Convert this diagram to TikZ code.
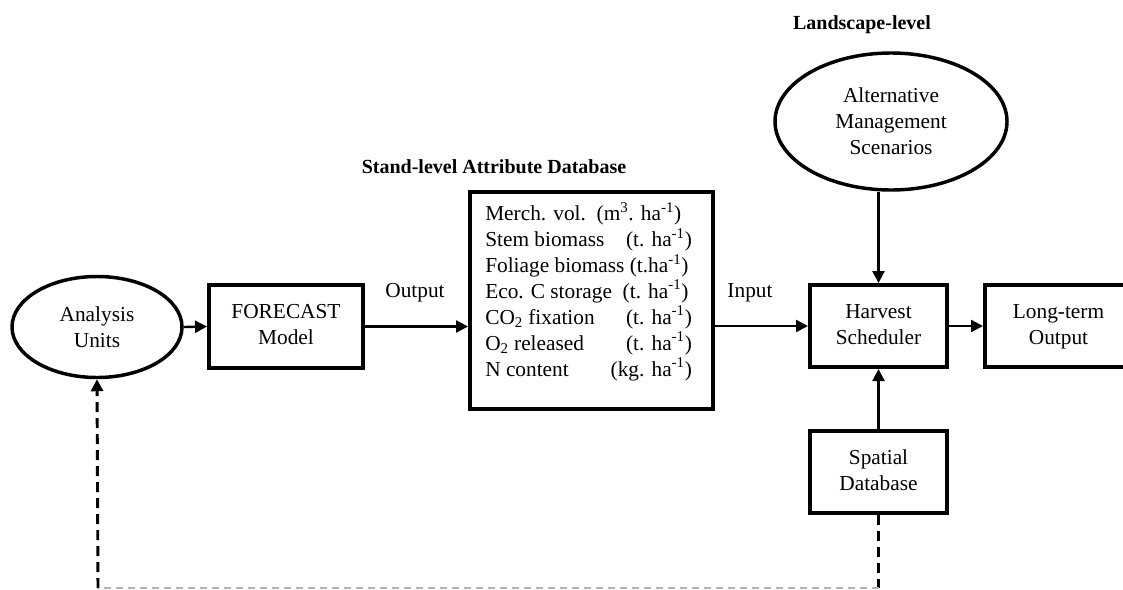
\documentclass[tikz,border=0pt]{standalone}
\usepackage{fontspec}
\setmainfont{Liberation Serif}
\usetikzlibrary{arrows.meta,shapes.geometric}
\newcommand{\twol}[2]{\raisebox{4.5pt}{\begin{tabular}{@{}c@{}}#1\\#2\end{tabular}}}
\tikzset{
  boxst/.style={draw=black, line width=3pt, rectangle, align=center, inner sep=0pt,
    font=\fontsize{16}{19.5}\selectfont},
  ellst/.style={draw=black, line width=2.6pt, ellipse, align=center, inner sep=0pt,
    font=\fontsize{16}{19.5}\selectfont},
  lbl/.style={font=\fontsize{16}{19.5}\selectfont, inner sep=0pt},
  ttl/.style={font=\fontsize{15}{18}\selectfont\bfseries, inner sep=0pt},
  arr/.style={line width=1.8pt, -{Triangle[length=9pt,width=9pt]}},
  dashk/.style={line width=2.2pt, dash pattern=on 7.5pt off 4.5pt},
  dashg/.style={line width=1.5pt, draw=black!30, dash pattern=on 5pt off 4pt},
}
\begin{document}
\begin{tikzpicture}[x=0.75pt,y=-0.75pt]
\useasboundingbox (0,0) rectangle (1123,589);
% nodes
\node[ellst, minimum width=127.5pt, minimum height=75.75pt] (au) at (97,327) {Analysis\\Units};
\node[boxst, minimum width=115.5pt, minimum height=62.25pt] (fc) at (286,326.5) {\twol{FORECAST}{Model}};
\node[boxst, minimum width=182.25pt, minimum height=162.75pt] (attr) at (591.5,300.5) {};
\node[anchor=north west, inner sep=0pt, font=\fontsize{16}{19.3}\selectfont] (attrtxt) at (485,202) {%
\begin{tabular}{@{}p{155pt}@{}}
Merch. vol.~~(m\textsuperscript{3}. ha\textsuperscript{-1})\\
Stem biomass \hfill (t. ha\textsuperscript{-1})\\
Foliage biomass (t.ha\textsuperscript{-1})\\
Eco. C storage~~(t. ha\textsuperscript{-1})\\
CO\textsubscript{2} fixation \hfill (t. ha\textsuperscript{-1})\\
O\textsubscript{2} released \hfill (t. ha\textsuperscript{-1})\\
N content \hfill (kg. ha\textsuperscript{-1})
\end{tabular}};
\node[boxst, minimum width=102.75pt, minimum height=61.5pt] (hs) at (878.5,326) {\twol{Harvest}{Scheduler}};
\node[boxst, minimum width=110.25pt, minimum height=61.5pt, anchor=west] (lt) at (983,326) {\twol{Long-term}{Output}};
\node[ellst, minimum width=174pt, minimum height=102.75pt] (ams) at (891,121.5) {Alternative\\Management\\Scenarios};
\node[boxst, minimum width=102.75pt, minimum height=61.5pt] (sd) at (878.5,472) {\twol{Spatial}{Database}};
% labels
\node[lbl] (outl) at (415,293) {Output};
\node[lbl] (inl) at (750,293) {Input};
\node[ttl] (sl) at (494,167) {Stand-level Attribute Database};
\node[ttl] (ll) at (862,25) {Landscape-level};
% connectors
\draw[arr] (au.east) -- (fc.west);
\draw[arr] (fc.east) -- (attr.west |- fc.east);
\draw[arr] (attr.east |- hs.west) -- (hs.west);
\draw[arr] (hs.east) -- (lt.west);
\draw[arr] (hs.north |- ams.south) -- (hs.north);
\draw[arr] (sd.north) -- (hs.south);
\coordinate (c1) at (878.5,588);
\coordinate (c2) at (98,588);
\draw[dashk] (sd.south) -- (c1);
\draw[dashg] (c1) -- (c2);
\draw[dashk, -{Triangle[length=9pt,width=9pt]}] (c2) -- (au.south);
\end{tikzpicture}
\end{document}
